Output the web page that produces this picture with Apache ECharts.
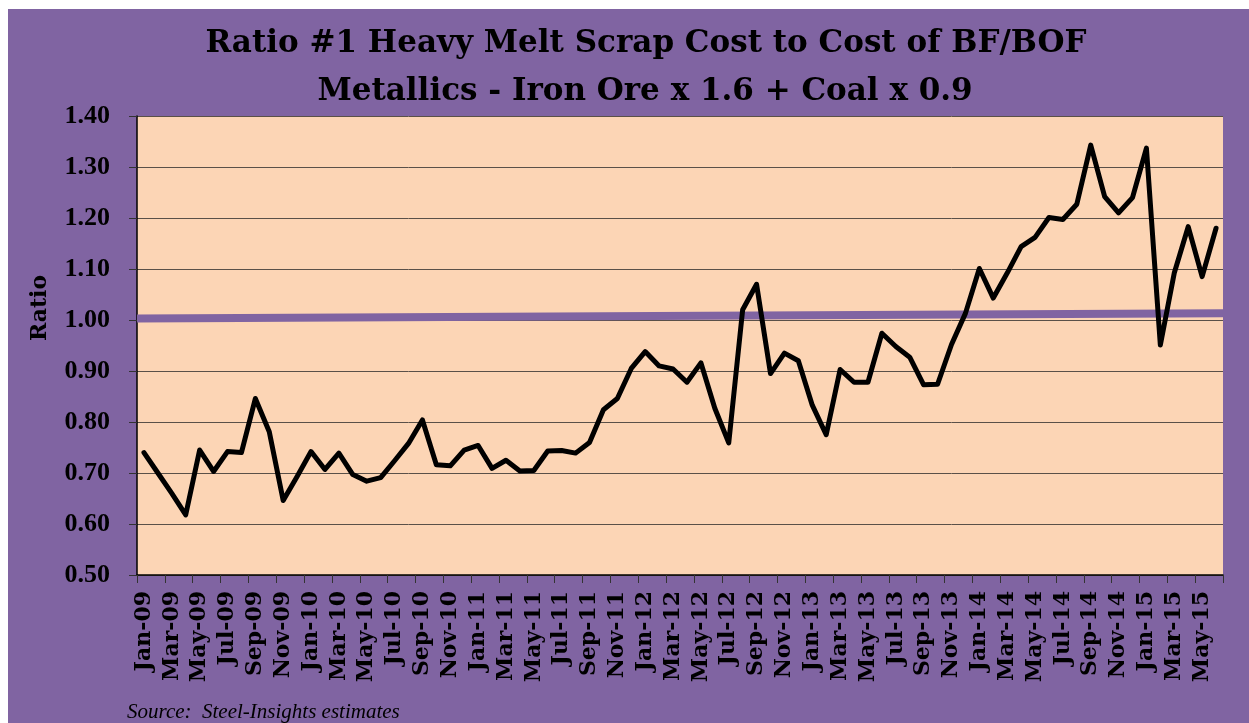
<!DOCTYPE html>
<html>
<head>
<meta charset="utf-8">
<script src="https://cdn.jsdelivr.net/npm/echarts@6/dist/echarts.min.js"></script>
<style>
html,body{margin:0;padding:0;background:#fff;}
#chart{width:1249px;height:723px;}
</style>
</head>
<body>
<div id="chart"></div>
<script>
const months = [
 "Jan-09","Feb-09","Mar-09","Apr-09","May-09","Jun-09","Jul-09","Aug-09","Sep-09","Oct-09","Nov-09","Dec-09",
 "Jan-10","Feb-10","Mar-10","Apr-10","May-10","Jun-10","Jul-10","Aug-10","Sep-10","Oct-10","Nov-10","Dec-10",
 "Jan-11","Feb-11","Mar-11","Apr-11","May-11","Jun-11","Jul-11","Aug-11","Sep-11","Oct-11","Nov-11","Dec-11",
 "Jan-12","Feb-12","Mar-12","Apr-12","May-12","Jun-12","Jul-12","Aug-12","Sep-12","Oct-12","Nov-12","Dec-12",
 "Jan-13","Feb-13","Mar-13","Apr-13","May-13","Jun-13","Jul-13","Aug-13","Sep-13","Oct-13","Nov-13","Dec-13",
 "Jan-14","Feb-14","Mar-14","Apr-14","May-14","Jun-14","Jul-14","Aug-14","Sep-14","Oct-14","Nov-14","Dec-14",
 "Jan-15","Feb-15","Mar-15","Apr-15","May-15","Jun-15"
];
const ratio = [
 0.740,0.700,0.660,0.618,0.745,0.703,0.742,0.740,0.846,0.781,0.646,0.693,
 0.742,0.707,0.739,0.697,0.684,0.691,0.724,0.758,0.804,0.716,0.714,0.745,
 0.754,0.709,0.725,0.704,0.705,0.743,0.744,0.739,0.760,0.824,0.846,0.905,
 0.938,0.910,0.904,0.878,0.916,0.827,0.759,1.020,1.070,0.895,0.935,0.920,
 0.833,0.775,0.903,0.878,0.878,0.974,0.948,0.927,0.873,0.874,0.952,1.013,
 1.101,1.043,1.092,1.144,1.162,1.201,1.197,1.227,1.343,1.242,1.210,1.240,
 1.337,0.951,1.092,1.183,1.085,1.180
];
// trend line: value at left edge and right edge of plot
const trendEnds = [1.003, 1.013];
const yMin = 0.5, yMax = 1.4, yStep = 0.1;
const titleLines = ["Ratio #1 Heavy Melt Scrap Cost to Cost of BF/BOF", "Metallics - Iron Ore x 1.6 + Coal x 0.9"];
const yName = "Ratio";
const sourceText = "Source:  Steel-Insights estimates";

const PURPLE = '#8064A2';
const chart = echarts.init(document.getElementById('chart'));
chart.setOption({
  backgroundColor: '#ffffff',
  animation: false,
  graphic: [
    {type:'rect', left: 8, top: 9, shape:{width:1241, height:714}, style:{fill: PURPLE}, z: -10, silent:true},
    {type:'text', x: 646, y: 44, style:{text: titleLines[0], font:'bold 31px "DejaVu Serif"', fill:'#000', align:'center', verticalAlign:'middle'}},
    {type:'text', x: 645, y: 92, style:{text: titleLines[1], font:'bold 31px "DejaVu Serif"', fill:'#000', align:'center', verticalAlign:'middle'}},
    {type:'text', x: 40, y: 308, rotation: Math.PI/2, style:{text: yName, font:'bold 22px "DejaVu Serif"', fill:'#000', align:'center', verticalAlign:'middle'}},
    {type:'text', x: 127, y: 702, style:{text: sourceText, font:'italic 21px "Liberation Serif"', fill:'#000', align:'left', verticalAlign:'top'}}
  ],
  grid: {left: 137, right: 26, top: 116, bottom: 148, show: true, backgroundColor: '#FCD5B5', borderWidth: 0},
  xAxis: [
    {
      type: 'category', data: months, boundaryGap: true,
      axisLine: {show: true, lineStyle: {color: '#000', width: 1.5}},
      axisTick: {show: true, interval: 1, length: 8, lineStyle: {color: '#333', width: 1}},
      axisLabel: {interval: 1, rotate: 90, margin: 16, color: '#000', fontFamily: 'DejaVu Serif', fontWeight: 'bold', fontSize: 22},
      splitLine: {show: false}
    },
    {type: 'value', min: 0, max: 1, show: false}
  ],
  yAxis: {
    type: 'value', min: yMin, max: yMax, interval: yStep,
    axisLine: {show: true, lineStyle: {color: '#000', width: 1.5}},
    axisTick: {show: true, length: 8, lineStyle: {color: '#333'}},
    axisLabel: {margin: 27, color: '#000', fontFamily: 'Liberation Serif', fontWeight: 'bold', fontSize: 26, formatter: v => v.toFixed(2)},
    splitLine: {show: true, lineStyle: {color: '#5a5048', width: 1}}
  },
  series: [
    {
      type: 'line', xAxisIndex: 1, data: [[0, trendEnds[0]], [1, trendEnds[1]]],
      symbol: 'none', lineStyle: {color: PURPLE, width: 8}, z: 2, silent: true
    },
    {
      type: 'line', data: ratio, symbol: 'none',
      lineStyle: {color: '#000', width: 5, cap: 'round', join: 'round'}, z: 3
    }
  ]
});
</script>
</body>
</html>
